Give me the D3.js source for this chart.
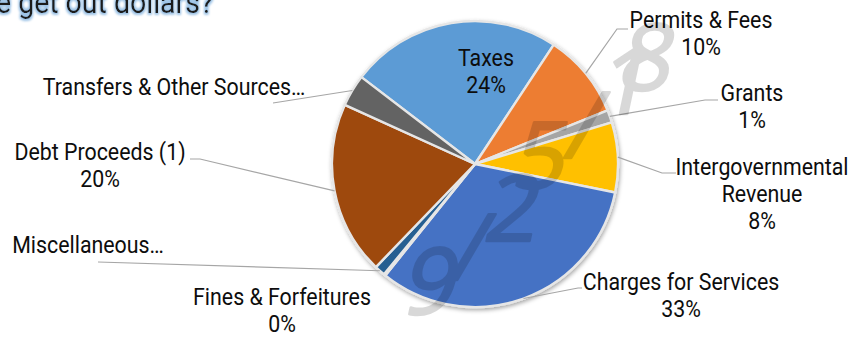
<!DOCTYPE html>
<html>
<head>
<meta charset="utf-8">
<script src="https://cdn.jsdelivr.net/npm/d3@7/dist/d3.min.js"></script>
<style>
  html, body { margin: 0; padding: 0; background: #fff; }
  svg { display: block; }
  .lbl { font-family: "Roboto", "Liberation Sans", sans-serif; font-size: 24px; fill: #0d0d0d; }
</style>
</head>
<body>
<svg id="chart" width="850" height="339"></svg>
<script>
// Revenue sources, in pie order (clockwise)
const categories = [
  "Taxes", "Permits & Fees", "Grants", "Intergovernmental Revenue",
  "Charges for Services", "Fines & Forfeitures", "Miscellaneous",
  "Debt Proceeds (1)", "Transfers & Other Sources"
];
const shares = [23.9, 9.6, 1.4, 7.9, 32.6, 0.2, 1.2, 19.6, 3.6];
const colors = ["#5B9BD5", "#ED7D31", "#A5A5A5", "#FFC000", "#4472C4",
                "#70AD47", "#255E91", "#9E480E", "#636363"];
const titleText = "e get out dollars?";
const stampText = "9/25/18";

const W = 850, H = 339;
const cx = 475, cy = 164, R = 143;
const startDeg = -52.6;
const narrow = 0.89;   // horizontal squeeze for a condensed label face

// Label placement: centre x, first baseline, leader path (elbow, end)
const labelLayout = [
  { x: 486, y: 66 },
  { x: 701, y: 28, elbow: [617, 29], end: [628, 29] },
  { x: 752, y: 101, elbow: [705, 100], end: [718, 100] },
  { x: 762, y: 175, lines: ["Intergovernmental", "Revenue"], elbow: [662, 173], end: [676, 173] },
  { x: 681, y: 290, elbow: [578, 288], end: [582, 288] },
  { x: 282, y: 305 },
  { x: 88, y: 253, truncated: true, elbow: [98, 262], end: [98, 262] },
  { x: 100, y: 160, elbow: [200, 159], end: [190, 159] },
  { x: 174, y: 95, truncated: true, elbow: [273, 103], end: [273, 103] }
];
const lineGap = 27;

// Where each handwritten stamp glyph sits (left, baseline)
const stampGlyphPos = [[400, 314], [449, 280], [482, 241], [510, 188], [563, 158], [595, 114], [616, 90]];

const data = categories.map((c, i) => ({ name: c, value: shares[i], color: colors[i], layout: labelLayout[i] }));
const total = d3.sum(shares);

const svg = d3.select("#chart");
const defs = svg.append("defs");
const shadow = defs.append("filter").attr("id", "pieShadow")
  .attr("x", "-10%").attr("y", "-10%").attr("width", "120%").attr("height", "125%");
shadow.append("feDropShadow").attr("dx", 1).attr("dy", 2).attr("stdDeviation", 2.2)
  .attr("flood-color", "#000").attr("flood-opacity", 0.35);

const glow = defs.append("filter").attr("id", "titleGlow")
  .attr("x", "-10%").attr("y", "-50%").attr("width", "120%").attr("height", "200%");
glow.append("feMorphology").attr("in", "SourceAlpha").attr("operator", "dilate").attr("radius", 1.6).attr("result", "d");
glow.append("feGaussianBlur").attr("in", "d").attr("stdDeviation", 1.2).attr("result", "b");
glow.append("feFlood").attr("flood-color", "#9DC3E6").attr("result", "c");
glow.append("feComposite").attr("in", "c").attr("in2", "b").attr("operator", "in").attr("result", "g");
const gm = glow.append("feMerge");
gm.append("feMergeNode").attr("in", "g");
gm.append("feMergeNode").attr("in", "SourceGraphic");

// Title (runs off the left edge)
svg.append("text")
  .attr("transform", `translate(-4,12.5) scale(${narrow},1)`)
  .attr("font-family", "Roboto, 'Liberation Sans', sans-serif")
  .attr("font-size", 32)
  .attr("fill", "#1a1a1a")
  .attr("filter", "url(#titleGlow)")
  .text(titleText);

const pie = d3.pie().sort(null).value(d => d.value)
  .startAngle(startDeg * Math.PI / 180)
  .endAngle(startDeg * Math.PI / 180 + 2 * Math.PI);
const arcs = pie(data);

const arc = d3.arc().innerRadius(0).outerRadius(R);
const edge = d3.arc().innerRadius(R).outerRadius(R);

const g = svg.append("g").attr("transform", `translate(${cx},${cy})`);
g.append("g").attr("filter", "url(#pieShadow)")
  .selectAll("path").data(arcs).join("path")
  .attr("d", arc)
  .attr("fill", d => d.data.color)
  .attr("stroke", "#e6e6e6")
  .attr("stroke-width", 2.4)
  .attr("stroke-linejoin", "round");

// Leader lines
const leaders = svg.append("g").attr("fill", "none").attr("stroke", "#a6a6a6").attr("stroke-width", 1.2);
arcs.forEach(d => {
  const L = d.data.layout;
  if (!L.elbow) return;
  const p = edge.centroid(d);
  const pts = [[cx + p[0], cy + p[1]], L.elbow, L.end];
  leaders.append("path").attr("d", d3.line()(pts));
});

// Data labels
const pct = d => Math.round(d.value / total * 100) + "%";
const labels = svg.append("g");
arcs.forEach(d => {
  const L = d.data.layout;
  let lines;
  if (L.truncated) lines = [d.data.name + "…"];
  else lines = (L.lines || [d.data.name]).concat(pct(d.data));
  const t = labels.append("text").attr("class", "lbl").attr("text-anchor", "middle")
    .attr("transform", `translate(${L.x},${L.y}) scale(${narrow},1)`);
  lines.forEach((s, i) => {
    t.append("tspan").attr("x", 0).attr("y", i * lineGap).text(s);
  });
});

// Date stamp: glyphs step up diagonally, each leaning slightly right
const skew = Math.tan(12 * Math.PI / 180);
const stamp = svg.append("text")
  .attr("transform", "skewX(-12)")
  .attr("font-family", "'Open Sans', 'DejaVu Sans', sans-serif")
  .attr("font-size", 92)
  .attr("fill", "#000")
  .attr("stroke", "#000")
  .attr("stroke-width", 2.5)
  .attr("stroke-linejoin", "round")
  .attr("opacity", 0.15);
Array.from(stampText).forEach((ch, i) => {
  const [px, py] = stampGlyphPos[i];
  stamp.append("tspan").attr("x", px + skew * py).attr("y", py).text(ch);
});
</script>
</body>
</html>
